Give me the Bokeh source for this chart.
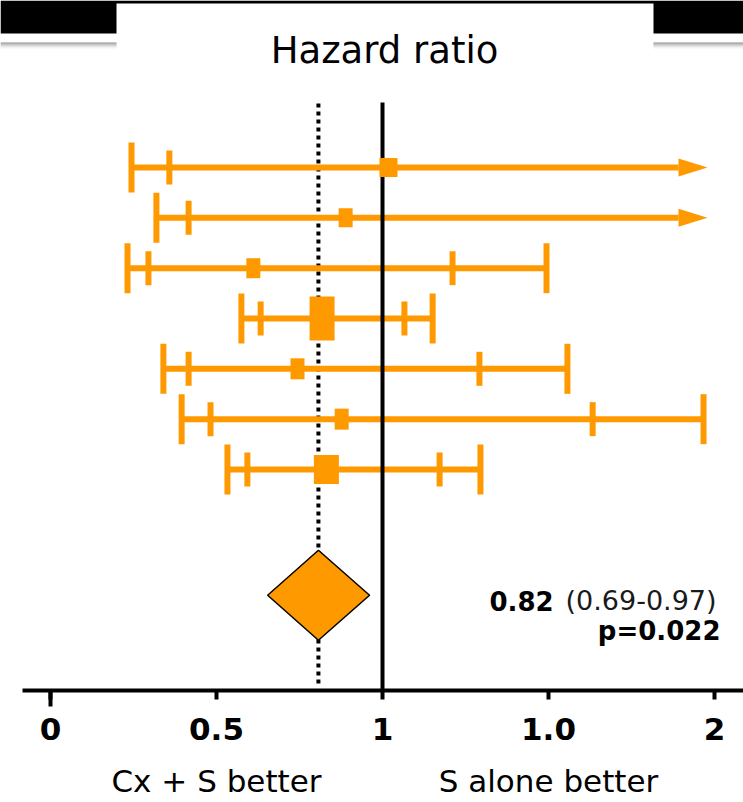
import math
from bokeh.plotting import figure
from bokeh.models import Range1d, LinearAxis, FixedTicker
from bokeh.core.properties import value
from bokeh.embed import file_html
from bokeh.resources import INLINE

# ---------------- data ----------------
rows = [1, 2, 3, 4, 5, 6, 7]
outer_lo = [0.244, 0.319, 0.232, 0.575, 0.340, 0.395, 0.533]
inner_lo = [0.358, 0.416, 0.295, 0.633, 0.416, 0.482, 0.593]
estimate = [1.018, 0.889, 0.611, 0.818, 0.744, 0.877, 0.831]
inner_hi = [float("nan"), float("nan"), 1.211, 1.066, 1.292, 1.633, 1.172]
outer_hi = [float("nan"), float("nan"), 1.494, 1.151, 1.557, 1.967, 1.295]
axis_clip = 1.979          # values beyond the axis end are drawn as arrows

pooled_row = 9.5
pooled_est = 0.807
pooled_lo = 0.654
pooled_hi = 0.961
ref_value = 1.0

tick_values = [0, 0.5, 1, 1.5, 2]
tick_labels = ["0", "0.5", "1", "1.0", "2"]
side_label_pos = [0.5, 1.5]
side_labels = ["Cx + S better", "S alone better"]

title_text = "Hazard ratio"
pooled_hr_text = "0.82"
pooled_ci_text = "(0.69-0.97)"
pooled_p_text = "p=0.022"

# ---------------- style ----------------
ORANGE = "#FF9900"
box_w = [18, 14, 14, 25, 14, 14, 25]      # marker sizes in screen px
box_h = [19, 19, 20, 44, 21, 21, 29]
FONT = "DejaVu Sans"

W, H = 743, 802
AXIS_Y = 690

# pixel helpers (layout only)
PX0, PXU = 50.0, 332.0
PY1, PYU = 167.0, 50.33


def vx(px):
    return (px - PX0) / PXU


def ry(py):
    return 1 + (py - PY1) / PYU


p = figure(width=W, height=H,
           x_range=Range1d(vx(0), vx(W)), y_range=Range1d(ry(H), ry(0)),
           x_axis_type=None, y_axis_type=None,
           output_backend="svg", toolbar_location=None,
           min_border=0)
p.outline_line_color = None
p.background_fill_color = "white"
p.border_fill_color = "white"
p.xgrid.visible = False
p.ygrid.visible = False

# ---------------- header decoration ----------------
p.quad(left=[vx(0)], right=[vx(743)], top=[ry(0)], bottom=[ry(33)],
       fill_color="black", line_color=None)
p.quad(left=[vx(116)], right=[vx(653)], top=[ry(3)], bottom=[ry(70)],
       fill_color="white", line_color=None)
grays = ["#8a8a8a", "#a0a0a0", "#b8b8b8", "#cfcfcf", "#e4e4e4", "#f3f3f3"]
for i, g in enumerate(grays):
    for (l, r) in [(0, 116), (653, 743)]:
        p.quad(left=[vx(l)], right=[vx(r)], top=[ry(42 + i)], bottom=[ry(43 + i)],
               fill_color=g, line_color=None)
p.text(x=[vx(384)], y=[ry(50)], text=[title_text], text_align="center",
       text_baseline="alphabetic", text_font=value(FONT), text_font_size="37px",
       text_color="black")

# ---------------- dotted pooled line (behind) ----------------
p.segment(x0=[pooled_est], x1=[pooled_est], y0=[ry(103)], y1=[ry(684)],
          line_color="black", line_width=4, line_dash="4 4")

# ---------------- error bars ----------------
arrow_len = 29 / PXU
arrow_half = 9 / PYU
line_end = [oh if not math.isnan(oh) else axis_clip - arrow_len for oh in outer_hi]
p.segment(x0=outer_lo, x1=line_end, y0=rows, y1=rows, line_color=ORANGE, line_width=6)

cap_x, cap_y, cap_h = [], [], []
for i, r in enumerate(rows):
    for xv, h in [(outer_lo[i], 50), (inner_lo[i], 34), (inner_hi[i], 34), (outer_hi[i], 50)]:
        if not math.isnan(xv):
            cap_x.append(xv)
            cap_y.append(r)
            cap_h.append(h)
p.rect(x=cap_x, y=cap_y, width=6, height=cap_h, width_units="screen",
       height_units="screen", fill_color=ORANGE, line_color=None)

ax, ay = [], []
for i, r in enumerate(rows):
    if math.isnan(outer_hi[i]):
        ax.append([axis_clip - arrow_len, axis_clip, axis_clip - arrow_len])
        ay.append([r - arrow_half, r, r + arrow_half])
p.patches(xs=ax, ys=ay, fill_color=ORANGE, line_color=None)

# ---------------- reference line ----------------
p.segment(x0=[ref_value], x1=[ref_value], y0=[ry(102)], y1=[ry(AXIS_Y)],
          line_color="black", line_width=4)

# ---------------- point estimates ----------------
p.rect(x=estimate, y=rows, width=box_w, height=box_h, width_units="screen",
       height_units="screen", fill_color=ORANGE, line_color=None)

# ---------------- pooled diamond ----------------
dh = 0.894
p.patch(x=[pooled_lo, pooled_est, pooled_hi, pooled_est],
        y=[pooled_row, pooled_row - dh, pooled_row, pooled_row + dh],
        fill_color=ORANGE, line_color="black", line_width=1.5)

p.text(x=[vx(489)], y=[ry(600)], text=[pooled_hr_text], text_align="left",
       text_baseline="alphabetic", text_font=value(FONT), text_font_size="26px",
       text_font_style="bold", text_color="black")
p.text(x=[vx(565)], y=[ry(600)], text=[pooled_ci_text], text_align="left",
       text_baseline="alphabetic", text_font=value(FONT), text_font_size="27px",
       text_color="#1a1a1a")
p.text(x=[vx(720)], y=[ry(630)], text=[pooled_p_text], text_align="right",
       text_baseline="alphabetic", text_font=value(FONT), text_font_size="26px",
       text_font_style="bold", text_color="black")

# ---------------- axes (fixed at positions inside the plot area) ----------------
xaxis = LinearAxis(ticker=FixedTicker(ticks=tick_values),
                   major_label_overrides={v: t for v, t in zip(tick_values, tick_labels)},
                   bounds=(vx(22), vx(W)), fixed_location=ry(AXIS_Y))
xaxis.axis_line_width = 4
xaxis.axis_line_color = "black"
xaxis.major_tick_line_width = 4
xaxis.major_tick_in = 0
xaxis.major_tick_out = 9
xaxis.minor_tick_line_color = None
xaxis.major_label_standoff = 18
xaxis.major_label_text_font = FONT
xaxis.major_label_text_font_size = "31px"
xaxis.major_label_text_font_style = "bold"
xaxis.major_label_text_color = "black"
p.add_layout(xaxis, "below")

# longer tick at the origin
zaxis = LinearAxis(ticker=FixedTicker(ticks=[tick_values[0]]),
                   fixed_location=ry(AXIS_Y))
zaxis.axis_line_color = None
zaxis.major_tick_line_width = 4
zaxis.major_tick_in = 0
zaxis.major_tick_out = 16
zaxis.minor_tick_line_color = None
zaxis.major_label_text_color = None
p.add_layout(zaxis, "below")

saxis = LinearAxis(ticker=FixedTicker(ticks=side_label_pos),
                   major_label_overrides={v: t for v, t in zip(side_label_pos, side_labels)},
                   fixed_location=ry(749))
saxis.axis_line_color = None
saxis.major_tick_line_color = None
saxis.minor_tick_line_color = None
saxis.major_tick_out = 0
saxis.major_tick_in = 0
saxis.major_label_standoff = 13
saxis.major_label_text_font = FONT
saxis.major_label_text_font_size = "31px"
saxis.major_label_text_color = "black"
p.add_layout(saxis, "below")

open("out.html", "w").write(file_html(p, INLINE))
